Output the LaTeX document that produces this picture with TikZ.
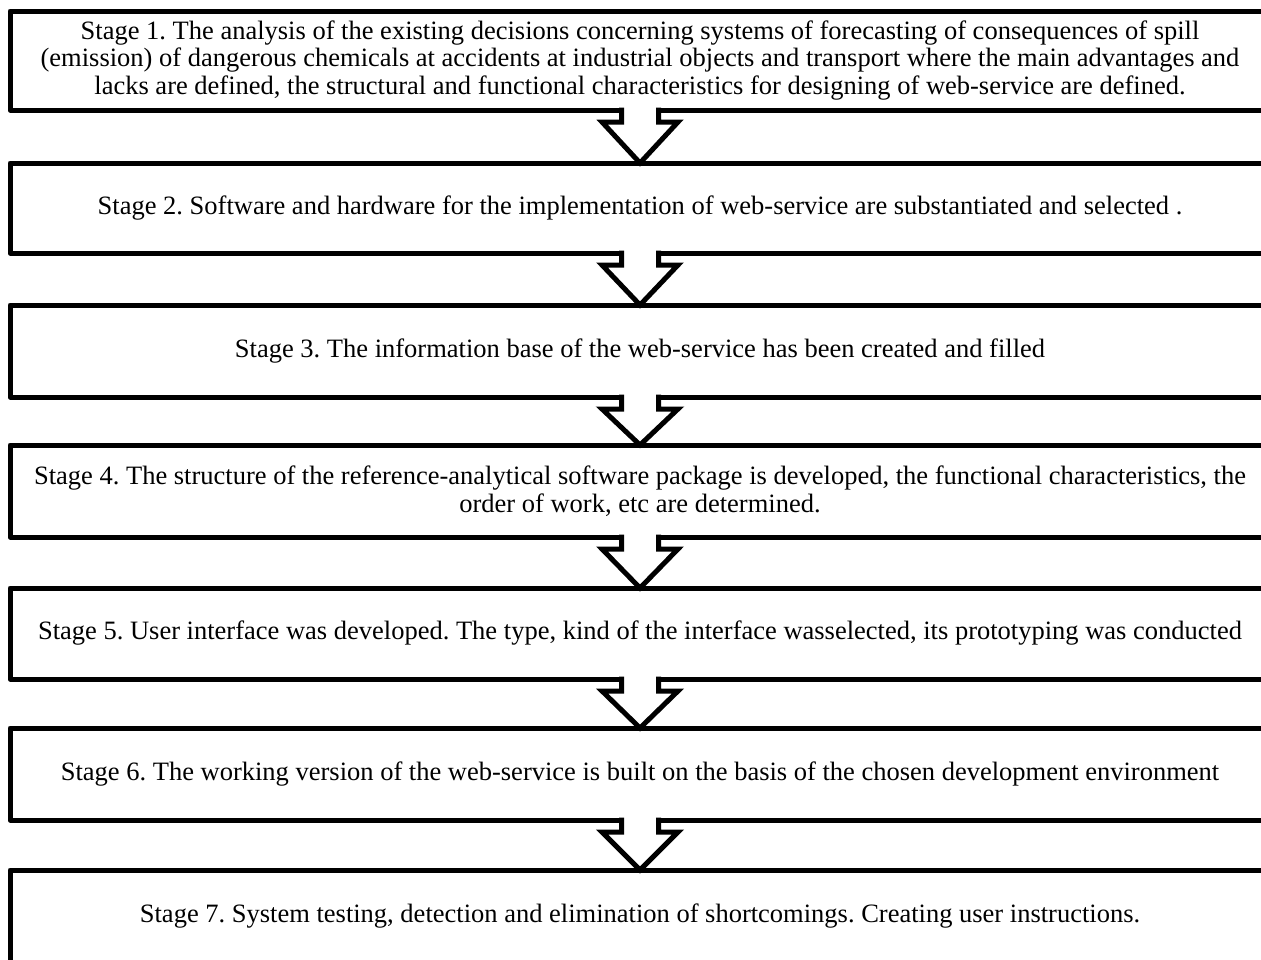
\documentclass[tikz,border=0pt]{standalone}
\usepackage{fontspec}
\setmainfont{Liberation Serif}
\usetikzlibrary{calc}
\frenchspacing
\begin{document}
\begin{tikzpicture}[x=1pt,y=-1pt,
  stagebox/.style={draw=black, line width=5pt, line join=round, fill=white,
    rectangle, minimum width=1260pt, inner sep=0pt, outer sep=0pt, align=center,
    font=\fontsize{26.5}{27.5}\selectfont\frenchspacing},
  arrowshape/.style={draw=black, line width=5pt, line join=miter, fill=white}]
\useasboundingbox (0,0) rectangle (1261,959);
\clip (0,0) rectangle (1261,959);
\node[stagebox, minimum height=99pt] (s1) at (640,60.5) {Stage 1. The analysis of the existing decisions concerning systems of forecasting of consequences of spill\\(emission) of dangerous chemicals at accidents at industrial objects and transport where the main advantages and\\lacks are defined, the structural and functional characteristics for designing of web-service are defined.};
\node[stagebox, minimum height=90pt] (s2) at (640,208) {Stage 2. Software and hardware for the implementation of web-service are substantiated and selected .};
\node[stagebox, minimum height=92pt] (s3) at (640,351) {Stage 3. The information base of the web-service has been created and filled};
\node[stagebox, minimum height=92pt] (s4) at (640,491) {Stage 4. The structure of the reference-analytical software package is developed, the functional characteristics, the\\order of work, etc are determined.};
\node[stagebox, minimum height=91pt] (s5) at (640,633.5) {Stage 5. User interface was developed. The type, kind of the interface wasselected, its prototyping was conducted};
\node[stagebox, minimum height=92pt] (s6) at (640,774) {Stage 6. The working version of the web-service is built on the basis of the chosen development environment};
\node[stagebox, minimum height=92pt] (s7) at (640,916) {Stage 7. System testing, detection and elimination of shortcomings. Creating user instructions.};
\foreach \a/\b in {s1/s2,s2/s3,s3/s4,s4/s5,s5/s6,s6/s7}{
  \path[arrowshape] ($(\a.south)+(-18.5,-2.5)$) -- ($(\a.south)+(-18.5,12)$) -- ($(\a.south)+(-38,12)$)
    -- (\b.north) -- ($(\a.south)+(38,12)$) -- ($(\a.south)+(18.5,12)$) -- ($(\a.south)+(18.5,-2.5)$);
}
\end{tikzpicture}
\end{document}
